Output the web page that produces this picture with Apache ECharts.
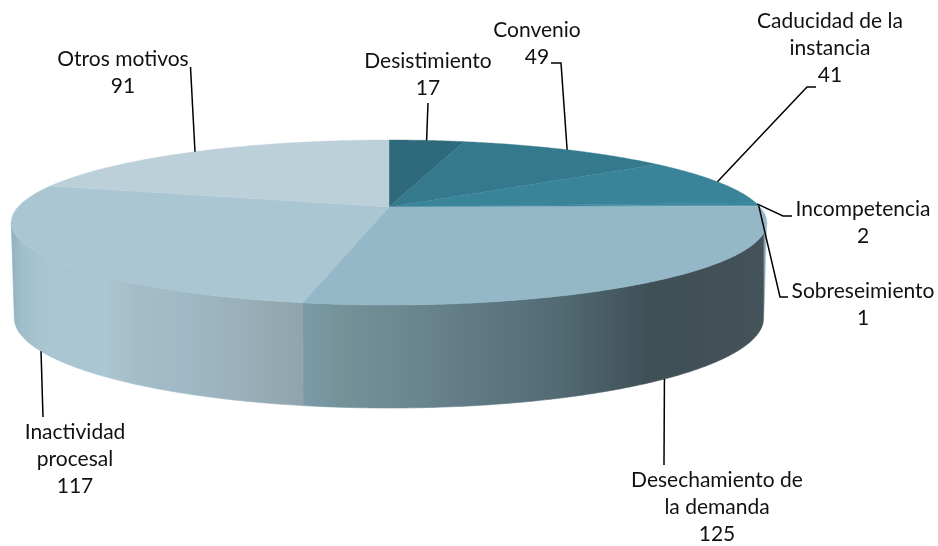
<!DOCTYPE html>
<html>
<head>
<meta charset="utf-8">
<style>html,body{margin:0;padding:0;background:#fff}#c{width:938px;height:546px}</style>
<script src="https://cdn.jsdelivr.net/npm/echarts@6/dist/echarts.min.js"></script>
</head>
<body>
<div id="c"></div>
<script>
var categories = ['Desistimiento','Convenio','Caducidad de la\ninstancia','Incompetencia','Sobreseimiento','Desechamiento de\nla demanda','Inactividad\nprocesal','Otros motivos'];
var sliceValues = [17,49,41,2,1,125,117,91];

var topColors = ['#2e6a7b','#34798c','#3a8499','#3b869b','#4a92a8','#94b8c8','#aac6d2','#bbd0d8'];
var wallStops = {
  5: [[304,'#7a9ba7'],[340,'#759299'],[440,'#66818c'],[560,'#526a73'],[650,'#3f4f56'],[763,'#445259'],[765,'#9dbdc9'],[768,'#a6c4d0']],
  6: [[11,'#8fb0bd'],[22,'#a0bfcb'],[45,'#a9c5d1'],[105,'#aac6d2'],[135,'#a5bdc8'],[180,'#9fbac6'],[240,'#9ab0ba'],[303,'#8fa4ac']]
};
var labelLayout = [
  {x:428,y:75, path:[[428,103]]},
  {x:537,y:44, path:[[561,63],[551,63]]},
  {x:830,y:48, path:[[807,87],[816,87]]},
  {x:863,y:223,path:[[783,216],[792,216]]},
  {x:863,y:305,path:[[780,297],[788,297]]},
  {x:717,y:507,path:[[664,465]]},
  {x:75, y:459,path:[[43,417]]},
  {x:123,y:73, path:[[190.5,67]]}
];

var K = 0.188;
var TOP = {cx:389, cy:207, a:371, b:79.6};
var BOTTOM = {cx:389, cy:301, a:368, b:86.9};
var total = sliceValues.reduce(function(s,v){return s+v;},0);
var starts = [];
sliceValues.reduce(function(s,v,i){starts[i]=s;return s+v;},0);
function ang(v){return v/total*2*Math.PI;}
function project(disc,t){
  var u=Math.sin(t), v=-Math.cos(t), d=1-K*v;
  return [disc.cx+disc.a*u/d, disc.cy+disc.b*v/d];
}
function arc(disc,t0,t1){
  var n=Math.max(2,Math.ceil(Math.abs(t1-t0)/0.01)),pts=[];
  for(var i=0;i<=n;i++)pts.push(project(disc,t0+(t1-t0)*i/n));
  return pts;
}
var SIL0=Math.acos(-K), SIL1=2*Math.PI-SIL0;

function renderWall(params,api){
  var i=api.value(0), val=api.value(1);
  var t0=Math.max(ang(starts[i]),SIL0), t1=Math.min(ang(starts[i]+val),SIL1);
  if(t1<=t0)return {type:'group',children:[]};
  var pts=arc(TOP,t0,t1).concat(arc(BOTTOM,t1,t0));
  var stops=wallStops[i]||[[0,topColors[i]],[938,topColors[i]]];
  var x0=stops[0][0],x1=stops[stops.length-1][0];
  var grad={type:'linear',x:x0,y:0,x2:x1,y2:0,global:true,
      colorStops:stops.map(function(s){return {offset:(s[0]-x0)/(x1-x0),color:s[1]};})};
  return {type:'polygon',silent:true,shape:{points:pts},style:{fill:grad,stroke:grad,lineWidth:0.6}};
}
function renderTop(params,api){
  var i=api.value(0), val=api.value(1);
  var pts=[[TOP.cx,TOP.cy]].concat(arc(TOP,ang(starts[i]),ang(starts[i]+val)));
  return {type:'polygon',silent:true,shape:{points:pts},
    style:{fill:topColors[i],stroke:topColors[i],lineWidth:0.4}};
}
function renderLabel(params,api){
  var i=api.value(0), val=api.value(1);
  var t=ang(starts[i]+val/2);
  var v=-Math.cos(t);
  var a=project((v>0.3)?BOTTOM:TOP,t);
  var L=labelLayout[i];
  return {type:'group',silent:true,children:[
    {type:'polyline',shape:{points:[a].concat(L.path)},style:{stroke:'#000',lineWidth:1.5,fill:null}},
    {type:'text',style:{text:categories[i]+'\n'+val,x:L.x,y:L.y,align:'center',verticalAlign:'middle',
      fontFamily:'Lato, Carlito, sans-serif',fontSize:21,lineHeight:27,fill:'#111'}}
  ]};
}
var seriesData=sliceValues.map(function(v,i){return [i,v];});
var chart=echarts.init(document.getElementById('c'),null,{renderer:'canvas'});
chart.setOption({
  animation:false,
  backgroundColor:'#fff',
  series:[
    {type:'custom',coordinateSystem:'none',data:seriesData,renderItem:renderWall,z:1},
    {type:'custom',coordinateSystem:'none',data:seriesData,renderItem:renderTop,z:2},
    {type:'custom',coordinateSystem:'none',data:seriesData,renderItem:renderLabel,z:3}
  ]
});
</script>
</body>
</html>
